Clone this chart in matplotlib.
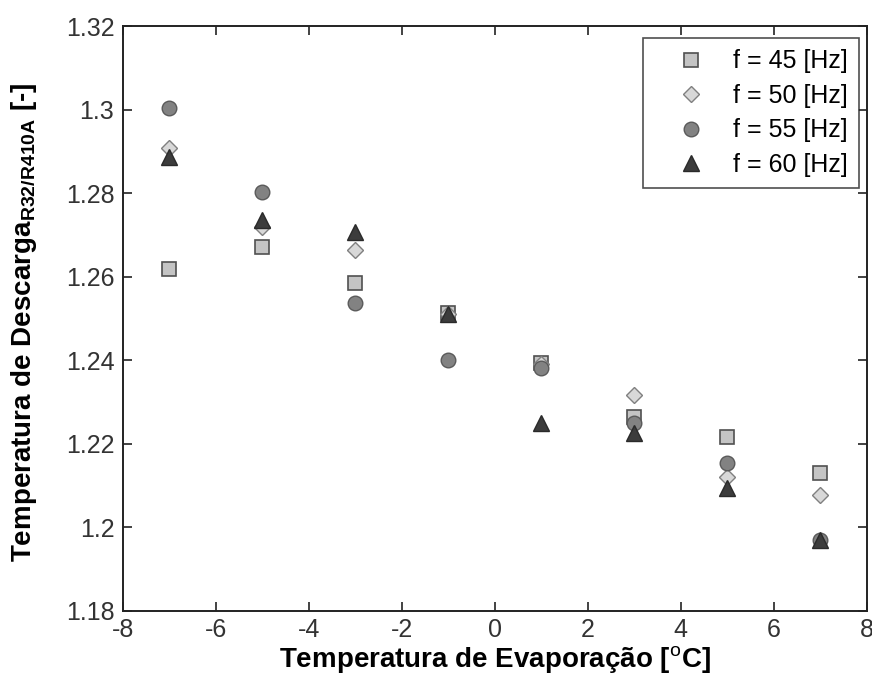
import matplotlib
matplotlib.use("Agg")
import matplotlib.pyplot as plt

plt.rcParams['font.family'] = ['Liberation Sans', 'DejaVu Sans']
plt.rcParams['mathtext.fontset'] = 'custom'
plt.rcParams['mathtext.rm'] = 'Liberation Sans'
plt.rcParams['mathtext.bf'] = 'Liberation Sans:bold'
plt.rcParams['axes.unicode_minus'] = False

t_evap = [-7, -5, -3, -1, 1, 3, 5, 7]
f45 = [1.2619, 1.2671, 1.2585, 1.2513, 1.2393, 1.2264, 1.2216, 1.2130]
f50 = [1.2909, 1.2719, 1.2664, 1.2512, 1.2392, 1.2317, 1.2120, 1.2077]
f55 = [1.3005, 1.2803, 1.2537, 1.2401, 1.2381, 1.2249, 1.2154, 1.1970]
f60 = [1.2887, 1.2736, 1.2707, 1.2511, 1.2249, 1.2226, 1.2093, 1.1969]
labels = ['f = 45 [Hz]', 'f = 50 [Hz]', 'f = 55 [Hz]', 'f = 60 [Hz]']

fig = plt.figure(figsize=(8.72, 6.78), dpi=100)
ax = fig.add_axes([0.1407, 0.0993, 0.8532, 0.8617])

ax.plot(t_evap, f45, 's', ms=10.5, mfc='#c4c4c4', mec='#505050', mew=1.2, label=labels[0], ls='none')
ax.plot(t_evap, f50, 'D', ms=8.5, mfc='#d8d8d8', mec='#808080', mew=1.0, label=labels[1], ls='none')
ax.plot(t_evap, f55, 'o', ms=10.5, mfc='#828282', mec='#5a5a5a', mew=1.0, label=labels[2], ls='none')
ax.plot(t_evap, f60, '^', ms=12, mfc='#3c3c3c', mec='#2a2a2a', mew=1.0, label=labels[3], ls='none')

ax.set_xlim(-8, 8)
ax.set_ylim(1.18, 1.32)
ax.set_xticks(range(-8, 9, 2))
ax.set_yticks([1.18, 1.20, 1.22, 1.24, 1.26, 1.28, 1.30, 1.32])
ax.set_yticklabels(['1.18', '1.2', '1.22', '1.24', '1.26', '1.28', '1.3', '1.32'])
ax.tick_params(direction='in', length=6.5, width=1.2, labelsize=18, colors='#222222',
               top=True, right=True, labelcolor='#333333')
ax.tick_params(axis='y', pad=6)
ax.tick_params(axis='x', pad=5)
for s in ax.spines.values():
    s.set_linewidth(1.4)
    s.set_color('#222222')

ax.set_xlabel('Temperatura de Evaporação [$^\\mathrm{o}$C]', fontsize=20, fontweight='bold')
ax.set_ylabel(r'Temperatura de Descarga$_{\mathbf{R32/R410A}}$ [-]', fontsize=20, fontweight='bold')
ax.xaxis.set_label_coords(0.5, -0.058)
ax.yaxis.set_label_coords(-0.113, 0.494)

leg = ax.legend(loc='upper right', bbox_to_anchor=(0.9892, 0.9798), fontsize=18, frameon=True,
                fancybox=False, borderaxespad=0, handletextpad=0.15, labelspacing=0.42,
                borderpad=0.45, handlelength=3.0)
leg.get_frame().set_edgecolor('#222222')
leg.get_frame().set_linewidth(1.2)

fig.savefig('out.png', dpi=100)
